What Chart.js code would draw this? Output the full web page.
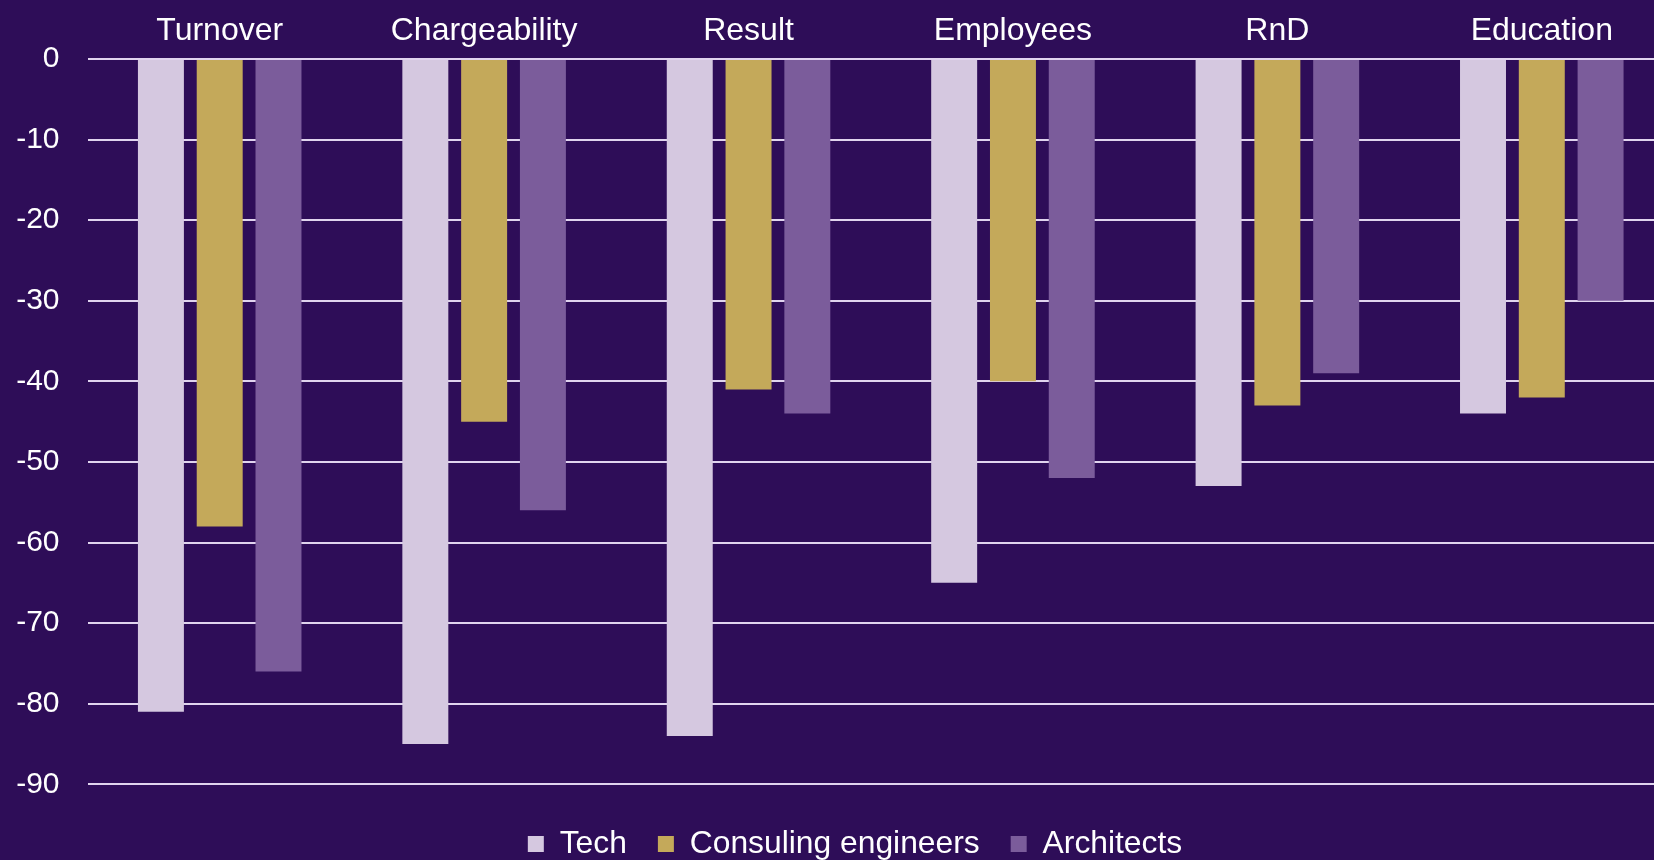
<!DOCTYPE html>
<html>
<head>
<meta charset="utf-8">
<script src="https://cdn.jsdelivr.net/npm/chart.js@4.4.1/dist/chart.umd.min.js"></script>
<style>
    html, body { margin: 0; padding: 0; background: #2e0d58; overflow: hidden; }
    #frame { width: 1654px; height: 860px; overflow: hidden; background: #2e0d58; }
    #wrap { position: relative; width: 1674px; height: 870px; }
</style>
</head>
<body>
<div id="frame">
    <div id="wrap"><canvas id="graficoQuedas"></canvas></div>
</div>
<script>
// categorias e séries
const categorias = ['Turnover', 'Chargeability', 'Result', 'Employees', 'RnD', 'Education'];
const tech = [-81, -85, -84, -65, -53, -44];
const consultingEngineers = [-58, -45, -41, -40, -43, -42];
const architects = [-76, -56, -44, -52, -39, -30];
const tickValores = [0, -10, -20, -30, -40, -50, -60, -70, -80, -90];

const CORES = {
    tech: '#d5c8e0',
    consulting: '#c4a95a',
    architects: '#7b5c9b',
    grade: '#e0d4ee',
    texto: '#ffffff'
};

const FONTE = '"Liberation Sans", Arial, sans-serif';

// desloca a legenda um pouco para a direita (como no original)
const deslocaLegenda = {
    id: 'deslocaLegenda',
    afterLayout: function(chart) {
        if (chart.legend) {
            chart.legend.left += 18;
            chart.legend.right += 18;
        }
    }
};

document.addEventListener('DOMContentLoaded', function() {
    const ctx = document.getElementById('graficoQuedas');

    new Chart(ctx.getContext('2d'), {
        type: 'bar',
        data: {
            labels: categorias,
            datasets: [
                {
                    label: 'Tech',
                    data: tech,
                    backgroundColor: CORES.tech
                },
                {
                    label: 'Consuling engineers',
                    data: consultingEngineers,
                    backgroundColor: CORES.consulting
                },
                {
                    label: 'Architects',
                    data: architects,
                    backgroundColor: CORES.architects
                }
            ]
        },
        options: {
            responsive: true,
            maintainAspectRatio: false,
            animation: false,
            layout: {
                padding: 0
            },
            datasets: {
                bar: {
                    categoryPercentage: 0.667,
                    barPercentage: 0.782
                }
            },
            scales: {
                x: {
                    position: 'top',
                    grid: { display: false, drawTicks: false },
                    border: { display: false },
                    ticks: {
                        color: CORES.texto,
                        padding: 9,
                        maxRotation: 0,
                        font: { family: FONTE, size: 32 }
                    },
                    afterFit: function(scale) {
                        scale.height = 59;
                    }
                },
                y: {
                    min: -91.6,
                    max: 0,
                    afterBuildTicks: function(scale) {
                        scale.ticks = tickValores.map(v => ({ value: v }));
                    },
                    grid: {
                        color: CORES.grade,
                        lineWidth: 2,
                        drawTicks: false
                    },
                    border: { display: false },
                    ticks: {
                        color: CORES.texto,
                        padding: 28,
                        font: { family: FONTE, size: 30 }
                    },
                    afterFit: function(scale) {
                        scale.width = 87.5;
                    }
                }
            },
            plugins: {
                legend: {
                    position: 'bottom',
                    labels: {
                        color: CORES.texto,
                        boxWidth: 16,
                        boxHeight: 16,
                        padding: 31,
                        font: { family: FONTE, size: 31.8 }
                    }
                },
                tooltip: { enabled: false }
            }
        },
        plugins: [deslocaLegenda]
    });
});
</script>
</body>
</html>
